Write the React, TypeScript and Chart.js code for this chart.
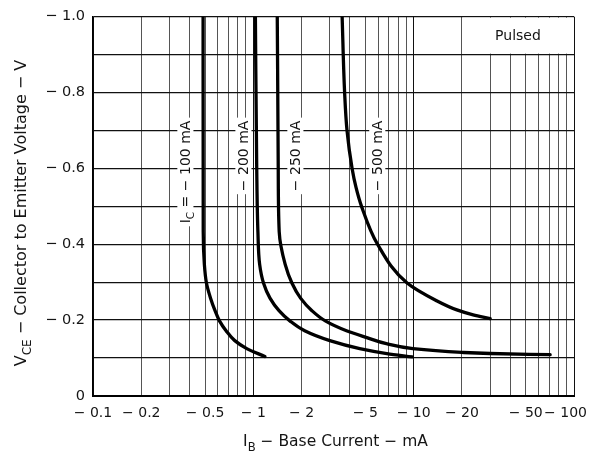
import React, { useEffect, useRef } from 'react';
import { Chart, registerables } from 'chart.js';

Chart.register(...registerables);

// ---- axis ticks ----
const xTickValues = [0.1, 0.2, 0.5, 1, 2, 5, 10, 20, 50, 100];
const xTickLabels = ['− 0.1', '− 0.2', '− 0.5', '− 1', '− 2', '− 5', '− 10', '− 20', '− 50', '− 100'];
const yTickValues = [0, 0.2, 0.4, 0.6, 0.8, 1.0];
const yTickLabels = ['0', '− 0.2', '− 0.4', '− 0.6', '− 0.8', '− 1.0'];
const xGridDecades = [0.1, 1, 10];
const xGridMultipliers = [1, 2, 3, 4, 5, 6, 7, 8, 9];

// ---- series: |IB| in mA, |VCE| in V ----
const ib100 = [0.486, 0.487, 0.495, 0.51, 0.541, 0.577, 0.615, 0.676, 0.766, 0.91, 1.18];
const vce100 = [1.0, 0.433, 0.347, 0.298, 0.258, 0.225, 0.198, 0.172, 0.146, 0.125, 0.104];

const ib200 = [1.03, 1.05, 1.068, 1.095, 1.157, 1.27, 1.446, 1.69, 2.09, 3.0, 4.61, 6.8, 9.8];
const vce200 = [1.0, 0.6, 0.433, 0.347, 0.298, 0.258, 0.225, 0.198, 0.172, 0.146, 0.125, 0.112, 0.103];

const ib250 = [1.41, 1.43, 1.45, 1.58, 1.74, 1.97, 2.32, 2.81, 3.81, 5.1, 6.76, 9.9, 20, 30, 71];
const vce250 = [1.0, 0.6, 0.433, 0.347, 0.298, 0.258, 0.225, 0.198, 0.172, 0.154, 0.138, 0.125, 0.115, 0.112, 0.109];

const ib500 = [3.58, 3.71, 3.84, 4.13, 4.37, 4.73, 5.95, 9.1, 13.8, 18.6, 23.5, 30];
const vce500 = [1.0, 0.8, 0.7, 0.6, 0.55, 0.5, 0.4, 0.298, 0.252, 0.227, 0.214, 0.204];

const seriesNames = ['IC = −100 mA', 'IC = −200 mA', 'IC = −250 mA', 'IC = −500 mA'];

// ---- texts ----
type Part = { t: string; sub?: boolean };
const curveLabelParts: Part[][] = [
  [{ t: 'I' }, { t: 'C', sub: true }, { t: ' = − 100 mA' }],
  [{ t: '− 200 mA' }],
  [{ t: '− 250 mA' }],
  [{ t: '− 500 mA' }],
];
const xTitleParts: Part[] = [{ t: 'I' }, { t: 'B', sub: true }, { t: ' − Base Current − mA' }];
const yTitleParts: Part[] = [{ t: 'V' }, { t: 'CE', sub: true }, { t: ' − Collector to Emitter Voltage − V' }];
const noteText = 'Pulsed';

const FAMILY = '"DejaVu Sans", "Liberation Sans", Arial, sans-serif';
const INK = '#151515';

function partsWidth(ctx: CanvasRenderingContext2D, parts: Part[], size: number) {
  let w = 0;
  for (const p of parts) {
    ctx.font = `${p.sub ? size * 0.75 : size}px ${FAMILY}`;
    w += ctx.measureText(p.t).width;
  }
  return w;
}

function drawParts(ctx: CanvasRenderingContext2D, parts: Part[], x0: number, baseline: number, size: number) {
  let x = x0;
  ctx.textAlign = 'left';
  ctx.textBaseline = 'alphabetic';
  for (const p of parts) {
    const s = p.sub ? size * 0.75 : size;
    ctx.font = `${s}px ${FAMILY}`;
    ctx.fillText(p.t, x, baseline + (p.sub ? size * 0.3 : 0));
    x += ctx.measureText(p.t).width;
  }
}

function near(a: number, b: number) {
  return Math.abs(a - b) < 1e-6 * Math.max(1, Math.abs(b));
}

const gridValues: number[] = [];
xGridDecades.forEach((d) => xGridMultipliers.forEach((m) => gridValues.push(d * m)));
gridValues.push(100);

const overlayPlugin = {
  id: 'overlay',
  beforeDatasetsDraw(chart: any) {
    const ctx: CanvasRenderingContext2D = chart.ctx;
    const xs = chart.scales.x;
    const ys = chart.scales.y;
    const area = chart.chartArea;
    ctx.save();

    // "Pulsed" box
    const bx = xs.getPixelForValue(20);
    const by = ys.getPixelForValue(0.9);
    ctx.fillStyle = '#fff';
    ctx.fillRect(bx + 1, area.top + 1, area.right - bx - 2, by - area.top - 2);
    ctx.fillStyle = INK;
    ctx.font = `14px ${FAMILY}`;
    ctx.textAlign = 'center';
    ctx.textBaseline = 'middle';
    ctx.fillText(noteText, (bx + area.right) / 2, (area.top + by) / 2 + 1);

    // x tick labels, placed on the log scale's pixels
    ctx.font = `14px ${FAMILY}`;
    ctx.textBaseline = 'middle';
    ctx.textAlign = 'center';
    const cw = chart.width;
    xTickValues.forEach((v, i) => {
      let px = xs.getPixelForValue(v);
      const w = ctx.measureText(xTickLabels[i]).width;
      if (px + w / 2 > cw - 3) px = cw - 3 - w / 2;
      ctx.fillText(xTickLabels[i], px, area.bottom + 17);
    });

    // curve labels (rotated, white background)
    const anchors = [0.375, 0.863, 1.82, 5.9];
    const topY = ys.getPixelForValue(0.726);
    const size = 14;
    curveLabelParts.forEach((parts, i) => {
      const px = xs.getPixelForValue(anchors[i]);
      const w = partsWidth(ctx, parts, size);
      ctx.save();
      ctx.translate(px, topY);
      ctx.rotate(-Math.PI / 2);
      ctx.fillStyle = '#fff';
      ctx.fillRect(-w - 3, -size * 0.55, w + 6, size * 1.15);
      ctx.fillStyle = INK;
      drawParts(ctx, parts, -w, size * 0.36, size);
      ctx.restore();
    });

    // axis titles
    const xs2 = 15.5;
    const xw = partsWidth(ctx, xTitleParts, xs2);
    ctx.fillStyle = INK;
    drawParts(ctx, xTitleParts, (area.left + area.right) / 2 + 2 - xw / 2, 446, xs2);

    const ys2 = 16;
    const yw = partsWidth(ctx, yTitleParts, ys2);
    ctx.save();
    ctx.translate(20, 213);
    ctx.rotate(-Math.PI / 2);
    drawParts(ctx, yTitleParts, -yw / 2, ys2 * 0.36, ys2);
    ctx.restore();

    ctx.restore();
  },
};

export default function App() {
  const ref = useRef<HTMLCanvasElement>(null);

  useEffect(() => {
    if (!ref.current) return;
    const mk = (ib: number[], v: number[], name: string) => ({
      label: name,
      data: ib.map((x, i) => ({ x, y: v[i] })),
      borderColor: '#000',
      borderWidth: 3.3,
      pointRadius: 0,
      cubicInterpolationMode: 'monotone',
      fill: false,
      borderCapStyle: 'round',
      borderJoinStyle: 'round',
    });
    const chart = new Chart(ref.current, {
      type: 'line',
      data: {
        datasets: [
          mk(ib100, vce100, seriesNames[0]),
          mk(ib200, vce200, seriesNames[1]),
          mk(ib250, vce250, seriesNames[2]),
          mk(ib500, vce500, seriesNames[3]),
        ] as any,
      },
      options: {
        indexAxis: 'y',
        animation: false,
        responsive: false,
        devicePixelRatio: 1,
        layout: { padding: { left: 0, top: 13, right: 16, bottom: 0 } },
        plugins: { legend: { display: false }, tooltip: { enabled: false } },
        scales: {
          x: {
            type: 'logarithmic',
            position: 'bottom',
            min: 0.1,
            max: 100,
            afterBuildTicks: (scale: any) => {
              scale.ticks = gridValues.map((v) => ({ value: v }));
            },
            afterFit: (scale: any) => {
              scale.height = 65;
              scale.paddingLeft = 0;
              scale.paddingRight = 0;
            },
            ticks: {
              autoSkip: false,
              maxRotation: 0,
              padding: 9,
              color: INK,
              font: { family: FAMILY, size: 14 },
              callback: () => '',
            },
            grid: {
              drawTicks: false,
              lineWidth: 1,
              color: (c: any) => {
                const v = c.tick ? c.tick.value : 1;
                const l = Math.log10(v);
                return Math.abs(l - Math.round(l)) < 1e-6 ? '#111' : '#555';
              },
            },
            border: { display: true, color: '#000', width: 2 },
          },
          y: {
            type: 'linear',
            position: 'left',
            min: 0,
            max: 1,
            afterFit: (scale: any) => {
              scale.width = 93;
            },
            ticks: {
              stepSize: 0.1,
              padding: 8,
              color: INK,
              font: { family: FAMILY, size: 14.5 },
              callback: (value: any) => {
                const i = yTickValues.findIndex((t) => near(Number(value), t));
                return i >= 0 ? yTickLabels[i] : '';
              },
            },
            grid: { drawTicks: false, lineWidth: 1.3, color: '#111' },
            border: { display: true, color: '#000', width: 1.5 },
          },
        },
      } as any,
      plugins: [overlayPlugin],
    });
    return () => chart.destroy();
  }, []);

  return (
    <div style={{ position: 'fixed', left: 0, top: 0, width: 590, height: 461, background: '#fff' }}>
      <canvas ref={ref} width={590} height={461} style={{ display: 'block' }} />
    </div>
  );
}
